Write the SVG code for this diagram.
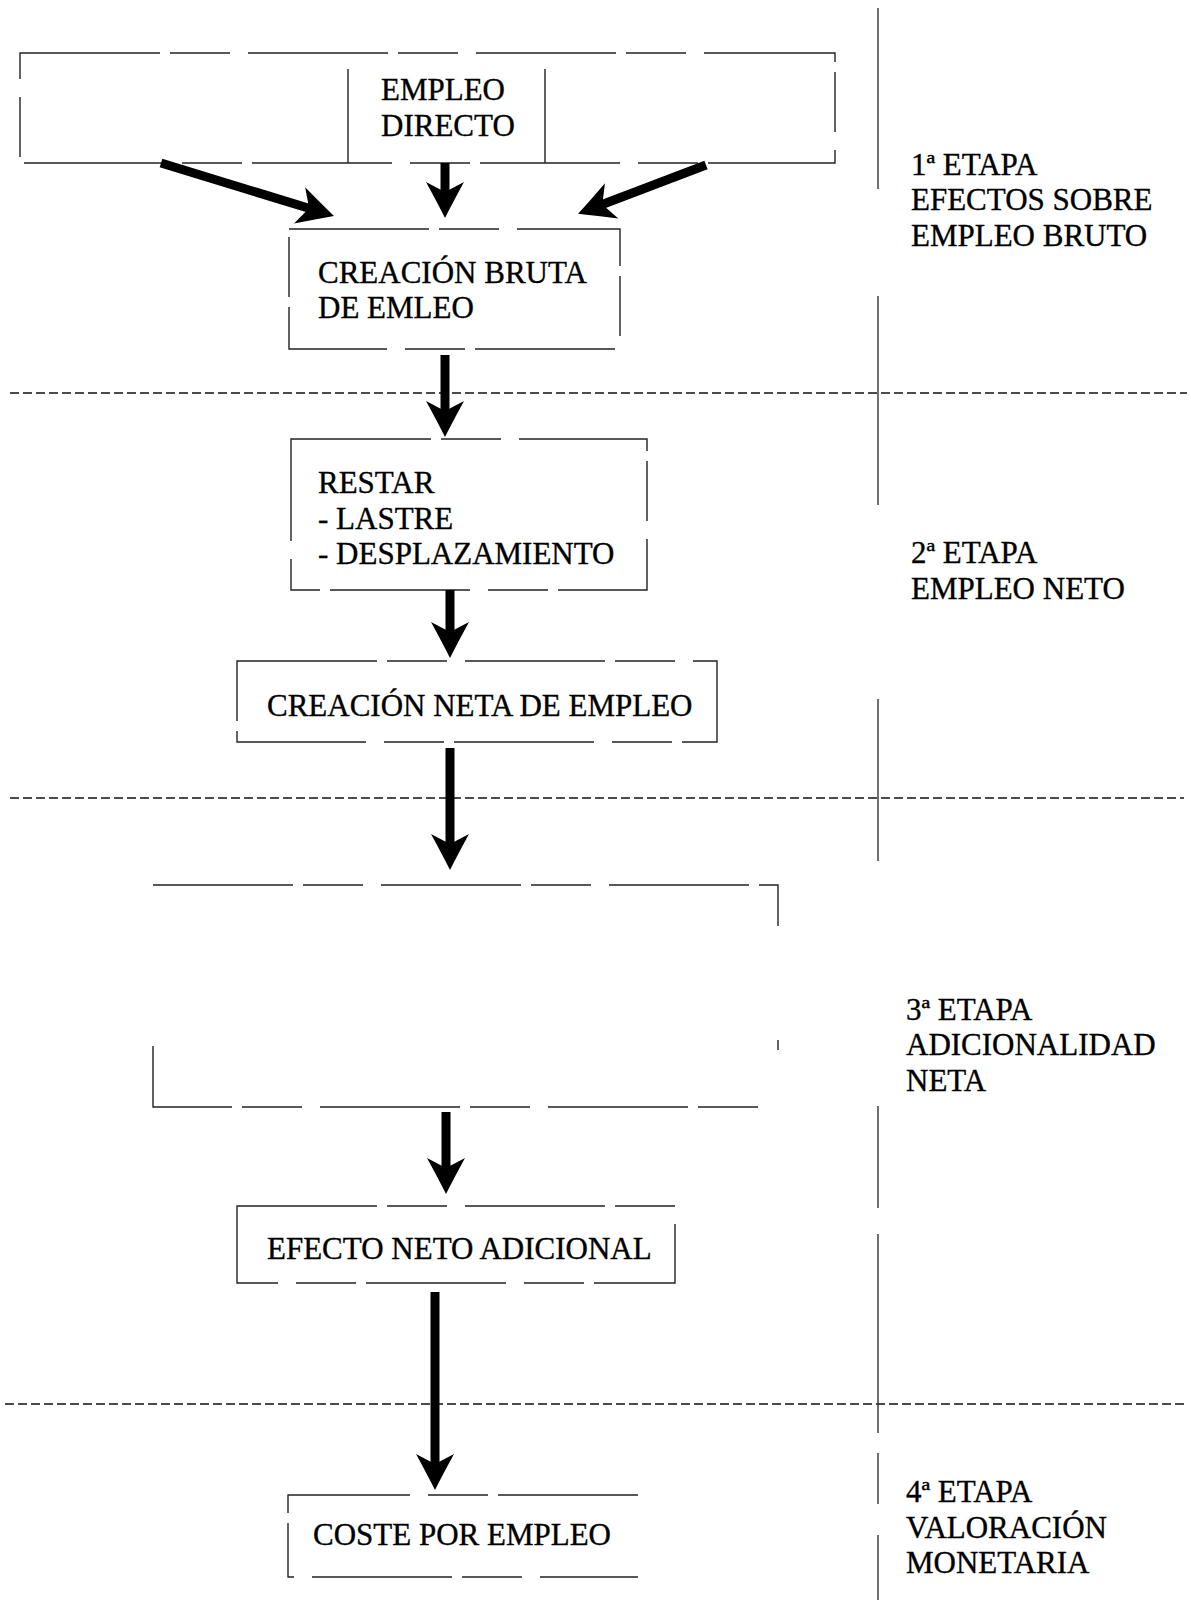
<svg xmlns="http://www.w3.org/2000/svg" width="1191" height="1600" viewBox="0 0 1191 1600">
<style>
.bg{fill:#fff}
.box{fill:none;stroke:#222;stroke-width:1.4;stroke-dasharray:140 10 60 18}
.seg{fill:none;stroke:#222;stroke-width:1.4;stroke-dasharray:140 10 60 18}
.stage{fill:none;stroke:#111;stroke-width:1.6;stroke-dasharray:9 4}
.axis{fill:none;stroke:#333;stroke-width:1.4}
.arr{fill:none;stroke:#000;stroke-width:9;marker-end:url(#head)}
text{font-family:"Liberation Serif","Times New Roman",serif;font-size:31px;fill:#000;stroke:#000;stroke-width:0.35}
</style>
<defs>
<marker id="head" markerUnits="userSpaceOnUse" markerWidth="40" markerHeight="40" refX="20" refY="19" orient="auto" viewBox="0 0 40 40">
<path d="M36,19 Q22,12 0,0 L10,19 L0,38 Q22,26 36,19 Z" fill="#000"/>
</marker>
</defs>
<rect class="bg" x="0" y="0" width="1191" height="1600"/>
<g id="stage-lines">
<line class="stage" x1="10" y1="393" x2="1187" y2="393"/>
<line class="stage" x1="10" y1="798" x2="1184" y2="798"/>
<line class="stage" x1="5" y1="1404" x2="1187" y2="1404"/>
<path class="axis" d="M878,8 V189 M878,296 V505 M878,699 V861 M878,1106 V1208 M878,1234 V1433 M878,1453 V1504 M878,1535 V1600"/>
</g>
<g id="node-empleo-directo">
<rect class="box" x="20" y="53" width="815" height="110"/>
<path class="seg" d="M348,69 V163 M545,69 V163" style="stroke-dasharray:none"/>
<text x="381" y="100">EMPLEO</text>
<text x="381" y="136">DIRECTO</text>
</g>
<g id="node-creacion-bruta">
<rect class="box" x="289" y="229" width="331" height="120"/>
<text x="318" y="283">CREACIÓN BRUTA</text>
<text x="318" y="318">DE EMLEO</text>
</g>
<g id="node-restar">
<rect class="box" x="291" y="439" width="356" height="151"/>
<text x="318" y="493">RESTAR</text>
<text x="318" y="529">- LASTRE</text>
<text x="318" y="564">- DESPLAZAMIENTO</text>
</g>
<g id="node-creacion-neta">
<rect class="box" x="237" y="661" width="480" height="81"/>
<text x="267" y="716">CREACIÓN NETA DE EMPLEO</text>
</g>
<g id="node-adicionalidad">
<path class="seg" d="M153,885 H778 V940 M778,1040 V1050 M153,1046 V1107 H760"/>
</g>
<g id="node-efecto-neto">
<rect class="box" x="237" y="1206" width="438" height="77"/>
<text x="267" y="1259">EFECTO NETO ADICIONAL</text>
</g>
<g id="node-coste">
<path class="seg" d="M638,1495 H288 V1577 H638"/>
<text x="313" y="1545">COSTE POR EMPLEO</text>
</g>
<g id="stage-labels">
<text x="911" y="175">1ª ETAPA</text>
<text x="911" y="210">EFECTOS SOBRE</text>
<text x="911" y="246">EMPLEO BRUTO</text>
<text x="911" y="563">2ª ETAPA</text>
<text x="911" y="599">EMPLEO NETO</text>
<text x="906" y="1020">3ª ETAPA</text>
<text x="906" y="1055">ADICIONALIDAD</text>
<text x="906" y="1091">NETA</text>
<text x="906" y="1502">4ª ETAPA</text>
<text x="906" y="1538">VALORACIÓN</text>
<text x="906" y="1573">MONETARIA</text>
</g>
<g id="connectors">
<line class="arr" x1="161" y1="163" x2="318.7" y2="211.3"/>
<line class="arr" x1="445" y1="163" x2="445" y2="202"/>
<line class="arr" x1="706" y1="165" x2="593" y2="208"/>
<line class="arr" x1="445" y1="355" x2="445" y2="421"/>
<line class="arr" x1="450" y1="590" x2="450" y2="642"/>
<line class="arr" x1="450" y1="748" x2="450" y2="854"/>
<line class="arr" x1="446" y1="1112" x2="446" y2="1178"/>
<line class="arr" x1="435" y1="1292" x2="435" y2="1474"/>
</g>
</svg>
